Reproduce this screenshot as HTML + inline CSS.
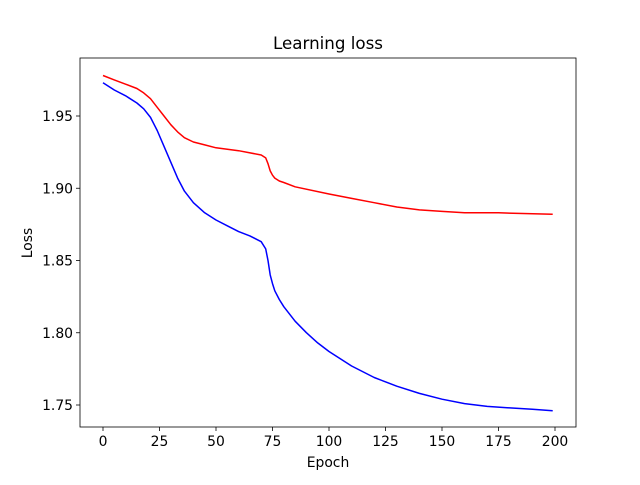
<!DOCTYPE html>
<html><head><meta charset="utf-8"><style>
body{margin:0;background:#fff}
svg text{font-family:"DejaVu Sans","Liberation Sans",sans-serif;fill:#000}
</style></head><body>
<svg id="c" width="640" height="480" xmlns="http://www.w3.org/2000/svg"></svg>
<script>
const blueX=[0,5,10,15,18,21,24,27,30,33,36,40,45,50,55,60,65,70,72,73,74,75,76,78,80,85,90,95,100,110,120,130,140,150,160,170,180,190,199];
const blueY=[1.973,1.968,1.964,1.959,1.955,1.949,1.940,1.929,1.918,1.907,1.898,1.890,1.883,1.878,1.874,1.870,1.867,1.863,1.858,1.850,1.840,1.834,1.829,1.823,1.818,1.808,1.800,1.793,1.787,1.777,1.769,1.763,1.758,1.754,1.751,1.749,1.748,1.747,1.746];
const redX=[0,5,10,15,18,21,24,27,30,33,36,40,45,50,60,70,72,73,74,75,76,78,80,85,100,110,120,130,140,150,160,175,199];
const redY=[1.978,1.975,1.972,1.969,1.966,1.962,1.956,1.950,1.944,1.939,1.935,1.932,1.930,1.928,1.926,1.923,1.921,1.917,1.912,1.909,1.907,1.905,1.904,1.901,1.896,1.893,1.890,1.887,1.885,1.884,1.883,1.883,1.882];
const xTicks=[0,25,50,75,100,125,150,175,200];
const yTicks=[1.75,1.80,1.85,1.90,1.95];
const yLabels=["1.75","1.80","1.85","1.90","1.95"];
const L=80,R=576,T=58,B=427;
const sx=v=>103+(v/200)*452;
const sy=v=>405-(v-1.75)*1445;
const svg=document.getElementById('c');
const NS='http://www.w3.org/2000/svg';
function mk(tag,attrs,name,txt){const e=document.createElementNS(NS,tag);for(const k in attrs)e.setAttribute(k,attrs[k]);


if(txt!==undefined)e.textContent=txt;svg.appendChild(e);return e;}
mk('rect',{x:L,y:T,width:R-L,height:B-T,fill:'#fff',stroke:'#000','stroke-width':0.8},'plot-area');
xTicks.forEach(t=>{const x=sx(t);mk('line',{x1:x,x2:x,y1:B,y2:B+4,stroke:'#000','stroke-width':0.8},'x-tick');
mk('text',{x:x,y:B+19,'text-anchor':'middle','font-size':13.9},'x-tick-label',String(t));});
yTicks.forEach((t,i)=>{const y=sy(t);mk('line',{x1:L-4,x2:L,y1:y,y2:y,stroke:'#000','stroke-width':0.8},'y-tick');
mk('text',{x:L-7,y:y+5,'text-anchor':'end','font-size':13.9},'y-tick-label',yLabels[i]);});
function path(xs,ys){return xs.map((v,i)=>(i?'L':'M')+sx(v).toFixed(1)+','+sy(ys[i]).toFixed(1)).join('');}
mk('path',{d:path(redX,redY),fill:'none',stroke:'#ff0000','stroke-width':1.5,'stroke-linejoin':'round'},'validation-loss-line');
mk('path',{d:path(blueX,blueY),fill:'none',stroke:'#0000ff','stroke-width':1.5,'stroke-linejoin':'round'},'training-loss-line');
mk('text',{x:328,y:49,'text-anchor':'middle','font-size':16.7},'chart-title','Learning loss');
mk('text',{x:328,y:467,'text-anchor':'middle','font-size':13.9},'x-axis-title','Epoch');
mk('text',{x:32,y:243,'text-anchor':'middle','font-size':13.9,transform:'rotate(-90 32 243)'},'y-axis-title','Loss');
</script>
</body></html>
